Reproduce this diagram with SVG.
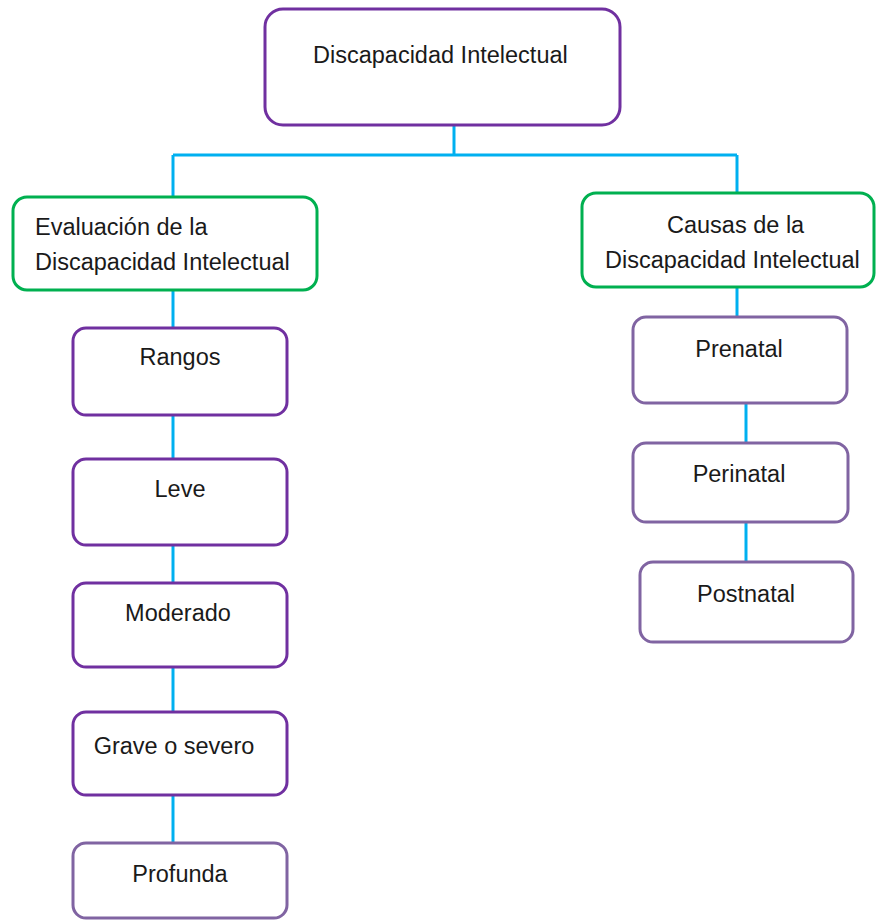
<svg xmlns="http://www.w3.org/2000/svg" width="876" height="920" viewBox="0 0 876 920">
<style>
  .box{fill:#fff;stroke-width:3}
  .p1{stroke:#7030A0}
  .p2{stroke:#8064A2}
  .g{stroke:#00B050}
  .t{font-family:"Liberation Sans",Arial,sans-serif;font-size:23.5px;fill:#1a1a1a}
  .m{text-anchor:middle}
  .c line{stroke:#00B0F0;stroke-width:3}
</style>
<rect width="876" height="920" fill="#fff"/>
<g class="c" id="connectors">
  <line x1="454" y1="125" x2="454" y2="155"/>
  <line x1="173" y1="155" x2="737" y2="155"/>
  <line x1="173" y1="155" x2="173" y2="197"/>
  <line x1="737" y1="155" x2="737" y2="193"/>
  <line x1="173" y1="290" x2="173" y2="328"/>
  <line x1="173" y1="415" x2="173" y2="459"/>
  <line x1="173" y1="545" x2="173" y2="583"/>
  <line x1="173" y1="667" x2="173" y2="712"/>
  <line x1="173" y1="795" x2="173" y2="843"/>
  <line x1="737" y1="287" x2="737" y2="317"/>
  <line x1="746" y1="403" x2="746" y2="443"/>
  <line x1="746" y1="522" x2="746" y2="562"/>
</g>
<g id="root">
  <rect class="box p1" x="265" y="9" width="355" height="116" rx="18"/>
  <text class="t" x="313" y="63">Discapacidad Intelectual</text>
</g>
<g id="evaluacion">
  <rect class="box g" x="13" y="197" width="304" height="93" rx="14"/>
  <text class="t" x="35" y="235">Evaluación de la</text>
  <text class="t" x="35" y="270">Discapacidad Intelectual</text>
</g>
<g id="causas">
  <rect class="box g" x="582" y="193" width="292" height="94" rx="14"/>
  <text class="t" x="667" y="233">Causas de la</text>
  <text class="t" x="605" y="268">Discapacidad Intelectual</text>
</g>
<g id="rangos">
  <rect class="box p1" x="73" y="328" width="214" height="87" rx="13"/>
  <text class="t m" x="180" y="365">Rangos</text>
</g>
<g id="leve">
  <rect class="box p1" x="73" y="459" width="214" height="86" rx="13"/>
  <text class="t m" x="180" y="497">Leve</text>
</g>
<g id="moderado">
  <rect class="box p1" x="73" y="583" width="214" height="84" rx="13"/>
  <text class="t m" x="178" y="621">Moderado</text>
</g>
<g id="grave">
  <rect class="box p1" x="73" y="712" width="214" height="83" rx="13"/>
  <text class="t m" x="174" y="754">Grave o severo</text>
</g>
<g id="profunda">
  <rect class="box p2" x="73" y="843" width="214" height="75" rx="13"/>
  <text class="t m" x="180" y="882">Profunda</text>
</g>
<g id="prenatal">
  <rect class="box p2" x="633" y="317" width="214" height="86" rx="13"/>
  <text class="t m" x="739" y="357">Prenatal</text>
</g>
<g id="perinatal">
  <rect class="box p2" x="633" y="443" width="215" height="79" rx="13"/>
  <text class="t m" x="739" y="482">Perinatal</text>
</g>
<g id="postnatal">
  <rect class="box p2" x="640" y="562" width="213" height="80" rx="13"/>
  <text class="t m" x="746" y="602">Postnatal</text>
</g>
</svg>
